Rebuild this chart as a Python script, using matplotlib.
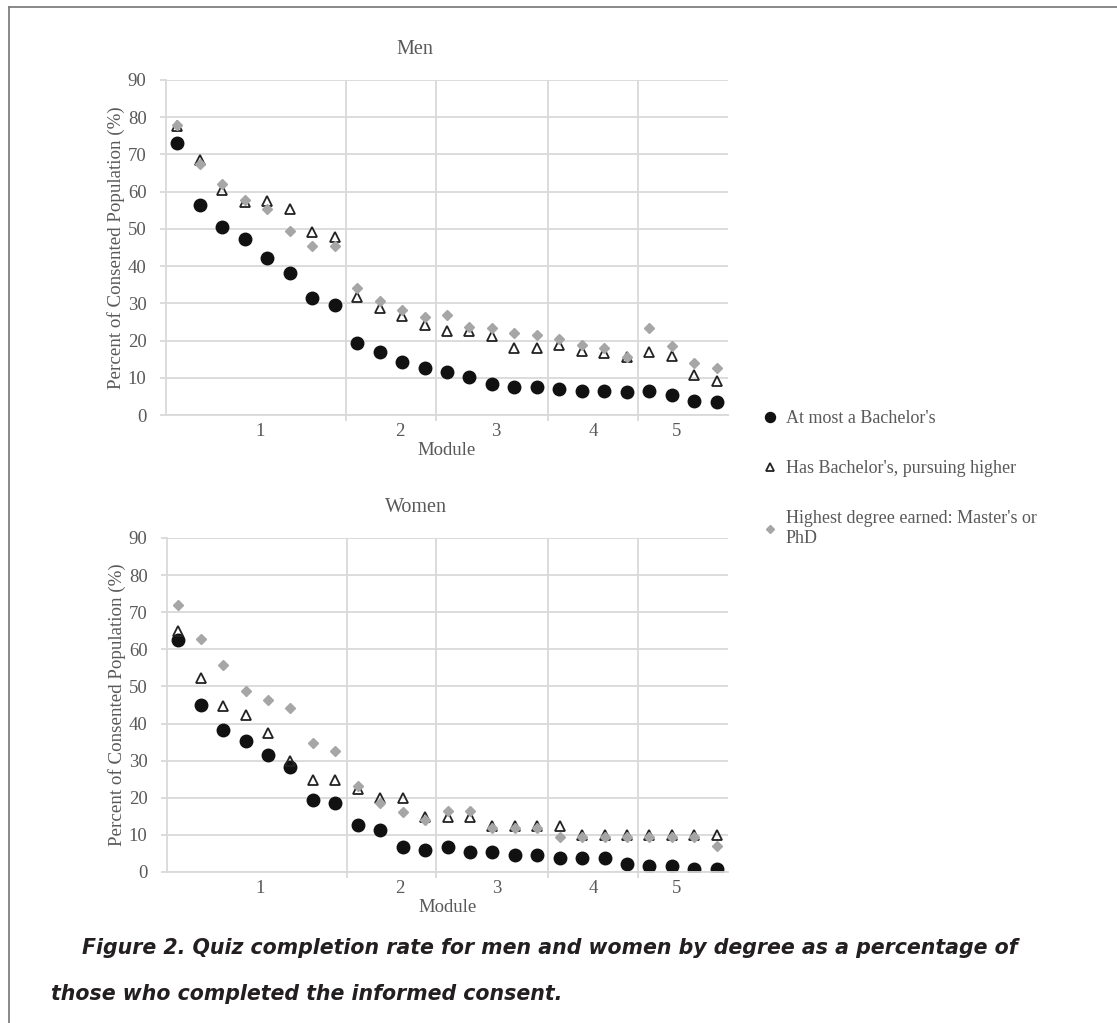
import matplotlib
matplotlib.use("Agg")
import matplotlib.pyplot as plt
import numpy as np
from matplotlib.lines import Line2D

# data (percent of consented population)
men_bach = [73.2, 56.3, 50.4, 47.4, 42.1, 38.1, 31.5, 29.5, 19.3, 16.9, 14.3, 12.6, 11.6,
            10.3, 8.3, 7.6, 7.6, 7.0, 6.4, 6.4, 6.1, 6.4, 5.4, 3.8, 3.4]
men_pursuing = [77.7, 68.6, 60.5, 57.3, 57.5, 55.3, 49.2, 47.8, 31.8, 28.8, 26.6, 24.2, 22.7,
                22.7, 21.2, 18.1, 18.1, 18.8, 17.3, 16.6, 15.7, 16.8, 15.9, 10.7, 9.1]
men_master = [78.0, 67.4, 62.0, 57.8, 55.4, 49.5, 45.3, 45.3, 34.0, 30.6, 28.2, 26.3, 26.9,
              23.6, 23.4, 22.1, 21.5, 20.4, 18.7, 17.9, 15.7, 23.3, 18.6, 13.9, 12.5]

women_bach = [62.4, 45.0, 38.3, 35.3, 31.5, 28.4, 19.5, 18.7, 12.7, 11.3, 6.8, 6.0, 6.8,
              5.3, 5.3, 4.5, 4.5, 3.8, 3.8, 3.8, 2.2, 1.5, 1.5, 0.8, 0.8]
women_pursuing = [64.9, 52.3, 44.8, 42.3, 37.4, 29.9, 24.9, 24.9, 22.3, 19.9, 19.9, 14.8, 14.8,
                  14.8, 12.3, 12.3, 12.3, 12.3, 9.9, 9.9, 9.9, 9.9, 9.9, 9.9, 9.9]
women_master = [72.0, 62.7, 55.8, 48.7, 46.4, 44.1, 34.8, 32.5, 23.3, 18.5, 16.2, 13.9, 16.5,
                16.5, 11.8, 11.8, 11.8, 9.3, 9.3, 9.3, 9.3, 9.3, 9.3, 9.3, 7.0]

# quizzes per module: 8, 4, 5, 4, 4
module_sizes = [8, 4, 5, 4, 4]
module_labels = ["1", "2", "3", "4", "5"]
series_labels = ["At most a Bachelor's", "Has Bachelor's, pursuing higher",
                 "Highest degree earned: Master's or\nPhD"]

plt.rcParams["font.family"] = ["Liberation Serif", "DejaVu Serif"]
GRAY_TXT = "#595959"
GRID = "#d9d9d9"

W, H = 1117, 1023
fig = plt.figure(figsize=(W / 100, H / 100), dpi=100)


def px_axes(l, t, r, b):
    return fig.add_axes([l / W, 1 - b / H, (r - l) / W, (b - t) / H])


def draw_panel(ax, title, bach, pursuing, master):
    x = np.arange(1, len(bach) + 1)
    ax.plot(x, bach, "o", ms=9.0, color="#111111", ls="none", label=series_labels[0])
    ax.plot(x, pursuing, "^", ms=7.5, mfc="none", mec="#222222", mew=1.3, ls="none",
            label=series_labels[1])
    ax.plot(x, master, "D", ms=5.2, color="#a6a6a6", ls="none", label=series_labels[2])

    ax.set_xlim(0.5, len(bach) + 0.5)
    ax.set_ylim(0, 90)
    ax.set_yticks(np.arange(0, 91, 10))

    bounds = np.cumsum(module_sizes)[:-1] + 0.5
    ax.set_xticks(bounds, minor=True)
    # module labels sit roughly at module centres (as in the original)
    ax.set_xticks([4.67, 10.88, 15.19, 19.49, 23.19])
    ax.set_xticklabels(module_labels)

    ax.grid(axis="y", which="major", color=GRID, lw=1.3)
    ax.grid(axis="x", which="minor", color=GRID, lw=1.3)
    ax.grid(axis="x", which="major", visible=False)
    ax.set_axisbelow(True)
    for s in ["top", "right"]:
        ax.spines[s].set_visible(False)
    for s in ["left", "bottom"]:
        ax.spines[s].set_color(GRID)
        ax.spines[s].set_linewidth(1.3)

    ax.tick_params(axis="y", length=4, color=GRID, width=1.3, labelsize=13.5,
                   labelcolor=GRAY_TXT, pad=10)
    ax.tick_params(axis="x", which="major", length=0, labelsize=13.5,
                   labelcolor=GRAY_TXT, pad=6)
    ax.tick_params(axis="x", which="minor", length=4, color=GRID, width=1.3)

    ax.set_ylabel("Percent of Consented Population (%)", fontsize=13.7, color=GRAY_TXT)
    ax.yaxis.set_label_coords(-0.073, 0.5)
    ax.set_xlabel("Module", fontsize=13.5, color=GRAY_TXT)
    ax.xaxis.set_label_coords(0.5, -0.082)
    ax.set_title(title, fontsize=14.5, color=GRAY_TXT, x=0.443, pad=19)


ax1 = px_axes(166, 80, 728, 415)
draw_panel(ax1, "Men", men_bach, men_pursuing, men_master)
ax2 = px_axes(167, 538, 728, 872)
draw_panel(ax2, "Women", women_bach, women_pursuing, women_master)

handles, labels = ax1.get_legend_handles_labels()
fig.legend(handles, labels, loc="upper left", bbox_to_anchor=(763 / W, 1 - 410 / H),
           frameon=False, fontsize=13, labelcolor=GRAY_TXT, handlelength=0.8,
           handletextpad=0.45, labelspacing=1.83, borderpad=0, borderaxespad=0,
           markerscale=0.8)

# caption
cap = dict(family=["DejaVu Sans"], weight="bold", style="italic",
           fontsize=14.8, color="#231f20", va="center")
fig.text(82 / W, 1 - 948 / H,
         "Figure 2. Quiz completion rate for men and women by degree as a percentage of",
         **cap)
fig.text(51 / W, 1 - 994 / H, "those who completed the informed consent.", **cap)

# frame lines (left and top edges of the original box)
fig.add_artist(Line2D([8.5 / W, 8.5 / W], [0, 1 - 6.5 / H], transform=fig.transFigure,
                      color="#7f7f7f", lw=1.3))
fig.add_artist(Line2D([8.5 / W, 1], [1 - 6.5 / H, 1 - 6.5 / H], transform=fig.transFigure,
                      color="#7f7f7f", lw=1.3))

fig.savefig("out.png", dpi=100, facecolor="white")
